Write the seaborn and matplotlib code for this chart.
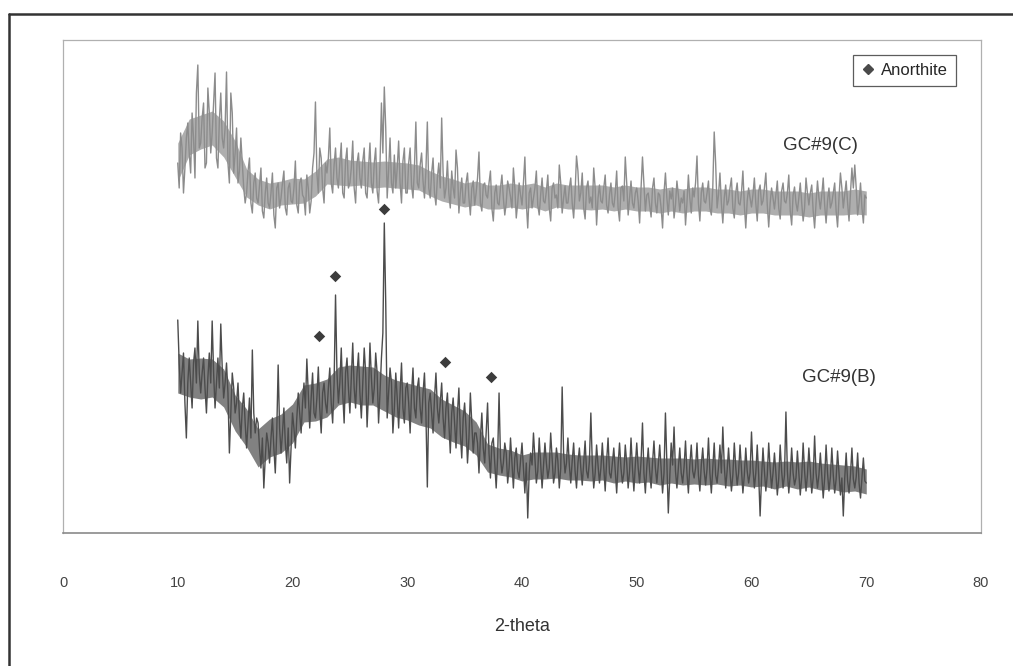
import numpy as np
import pandas as pd
import seaborn as sns
import matplotlib
matplotlib.use("Agg")
import matplotlib.pyplot as plt
from matplotlib.lines import Line2D

# 2-theta grid, 10..70 step 0.125 (readings at x.000/.250/.500/.750 and the half steps)
two_theta = np.arange(10, 70.001, 0.125)

# GC#9(C) - upper pattern (arbitrary offset units), at 10, 10.25, 10.5 ...
gc9_c = [
    370, 400, 340, 395,   # 10
    380, 420, 355, 468,   # 11
    390, 430, 370, 420,   # 12
    400, 460, 365, 440,   # 13
    385, 461, 350, 420,   # 14
    380, 350, 395, 345,   # 15
    340, 375, 320, 360,   # 16
    330, 365, 315, 355,   # 17
    325, 360, 305, 350,   # 18
    335, 362, 318, 350,   # 19
    330, 372, 320, 355,   # 20
    335, 358, 320, 365,   # 21
    431, 340, 375, 330,   # 22
    360, 405, 340, 385,   # 23
    345, 390, 335, 385,   # 24
    350, 392, 330, 380,   # 25
    345, 385, 335, 390,   # 26
    340, 385, 330, 430,   # 27
    446, 335, 395, 340,   # 28
    345, 392, 330, 385,   # 29
    340, 385, 335, 411,   # 30
    345, 380, 335, 411,   # 31
    335, 375, 328, 370,   # 32
    415, 335, 372, 325,   # 33
    345, 383, 320, 355,   # 34
    330, 360, 318, 352,   # 35
    340, 381, 322, 350,   # 36
    335, 362, 312, 348,   # 37
    328, 358, 318, 352,   # 38
    336, 365, 315, 350,   # 39
    328, 376, 305, 345,   # 40
    335, 362, 318, 355,   # 41
    330, 358, 312, 350,   # 42
    338, 368, 320, 347,   # 43
    330, 355, 315, 377,   # 44
    332, 360, 314, 352,   # 45
    336, 365, 308, 348,   # 46
    330, 358, 320, 350,   # 47
    326, 362, 312, 347,   # 48
    376, 318, 352, 325,   # 49
    345, 310, 376, 322,   # 50
    340, 316, 355, 320,   # 51
    338, 305, 360, 318,   # 52
    334, 315, 352, 322,   # 53
    330, 308, 358, 320,   # 54
    336, 377, 312, 350,   # 55
    330, 352, 318, 401,   # 56
    325, 360, 310, 348,   # 57
    332, 355, 315, 350,   # 58
    328, 362, 305, 345,   # 59
    326, 355, 312, 348,   # 60
    332, 360, 306, 345,   # 61
    324, 352, 314, 350,   # 62
    330, 358, 308, 346,   # 63
    322, 350, 312, 355,   # 64
    328, 348, 305, 352,   # 65
    324, 355, 310, 345,   # 66
    330, 350, 306, 360,   # 67
    325, 352, 312, 365,   # 68
    368, 318, 350, 310,   # 69
    335,                  # 70
]
# GC#9(C) at the half steps 10.125, 10.375 ...
gc9_c_half = [
    345, 385, 365, 410,   # 10
    360, 395, 440, 385,   # 11
    415, 365, 445, 380,   # 12
    430, 375, 412, 395,   # 13
    405, 370, 440, 360,   # 14
    405, 362, 370, 330,   # 15
    362, 330, 350, 335,   # 16
    348, 322, 340, 330,   # 17
    340, 318, 345, 325,   # 18
    350, 325, 345, 332,   # 19
    345, 328, 350, 338,   # 20
    318, 345, 332, 380,   # 21
    360, 385, 345, 370,   # 22
    375, 350, 368, 355,   # 23
    370, 340, 372, 345,   # 24
    365, 345, 370, 355,   # 25
    372, 340, 365, 350,   # 26
    370, 342, 368, 380,   # 27
    405, 362, 350, 378,   # 28
    365, 350, 372, 340,   # 29
    370, 348, 365, 350,   # 30
    368, 352, 362, 345,   # 31
    360, 340, 355, 345,   # 32
    360, 345, 340, 362,   # 33
    335, 365, 340, 330,   # 34
    350, 335, 345, 328,   # 35
    355, 330, 348, 338,   # 36
    350, 325, 340, 330,   # 37
    345, 335, 330, 345,   # 38
    325, 345, 330, 338,   # 39
    350, 330, 340, 325,   # 40
    345, 328, 338, 332,   # 41
    342, 325, 345, 335,   # 42
    325, 350, 335, 330,   # 43
    345, 330, 340, 362,   # 44
    340, 325, 345, 330,   # 45
    325, 345, 335, 332,   # 46
    345, 328, 338, 330,   # 47
    340, 325, 345, 332,   # 48
    350, 335, 330, 340,   # 49
    332, 345, 350, 338,   # 50
    328, 345, 330, 340,   # 51
    325, 340, 335, 342,   # 52
    345, 328, 338, 335,   # 53
    342, 330, 335, 345,   # 54
    350, 330, 340, 332,   # 55
    340, 325, 345, 370,   # 56
    338, 330, 335, 328,   # 57
    345, 325, 340, 330,   # 58
    340, 328, 332, 335,   # 59
    338, 330, 342, 328,   # 60
    345, 328, 330, 335,   # 61
    338, 325, 342, 332,   # 62
    340, 322, 338, 330,   # 63
    335, 330, 325, 340,   # 64
    340, 322, 330, 335,   # 65
    338, 328, 332, 325,   # 66
    340, 322, 335, 345,   # 67
    338, 330, 340, 345,   # 68
    345, 330, 325, 338,   # 69
]

# GC#9(B) - lower pattern, at 10, 10.25, 10.5 ...
gc9_b = [
    213, 140, 180, 95,    # 10
    175, 125, 185, 212,   # 11
    140, 175, 120, 180,   # 12
    212, 125, 175, 209,   # 13
    135, 170, 80, 160,    # 14
    120, 150, 95, 140,    # 15
    85, 135, 183, 100,    # 16
    110, 65, 45, 100,     # 17
    70, 115, 60, 168,     # 18
    80, 125, 70, 50,      # 19
    120, 85, 140, 100,    # 20
    150, 174, 105, 160,   # 21
    115, 166, 100, 150,   # 22
    120, 165, 110, 238,   # 23
    130, 185, 110, 175,   # 24
    120, 190, 125, 180,   # 25
    115, 185, 106, 190,   # 26
    130, 180, 110, 175,   # 27
    310, 115, 165, 100,   # 28
    160, 105, 170, 110,   # 29
    150, 100, 165, 115,   # 30
    155, 110, 160, 46,    # 31
    140, 100, 160, 110,   # 32
    150, 95, 140, 80,     # 33
    135, 85, 145, 75,     # 34
    130, 70, 140, 80,     # 35
    100, 60, 120, 70,     # 36
    130, 55, 95, 45,      # 37
    140, 60, 90, 50,      # 38
    95, 45, 85, 55,       # 39
    90, 40, 15, 80,       # 40
    100, 50, 95, 45,      # 41
    90, 55, 100, 50,      # 42
    85, 45, 146, 60,      # 43
    95, 50, 90, 45,       # 44
    85, 48, 92, 55,       # 45
    120, 45, 88, 50,      # 46
    90, 42, 95, 55,       # 47
    85, 40, 90, 50,       # 48
    88, 45, 95, 42,       # 49
    90, 50, 110, 40,      # 50
    85, 45, 92, 50,       # 51
    88, 40, 120, 20,      # 52
    90, 106, 45, 85,      # 53
    50, 92, 40, 88,       # 54
    55, 90, 42, 85,       # 55
    48, 95, 40, 90,       # 56
    50, 88, 106, 45,      # 57
    85, 42, 90, 48,       # 58
    88, 40, 85, 50,       # 59
    101, 45, 88, 17,      # 60
    85, 42, 90, 45,       # 61
    80, 38, 88, 45,       # 62
    121, 40, 85, 48,      # 63
    82, 38, 90, 42,       # 64
    85, 40, 97, 45,       # 65
    80, 35, 88, 42,       # 66
    85, 40, 82, 38,       # 67
    17, 80, 40, 85,       # 68
    45, 80, 35, 75,       # 69
    50,                   # 70
]
# GC#9(B) at the half steps
gc9_b_half = [
    170, 160, 130, 150,   # 10
    150, 170, 150, 160,   # 11
    160, 145, 155, 150,   # 12
    160, 150, 145, 165,   # 13
    150, 140, 120, 145,   # 14
    130, 115, 125, 110,   # 15
    110, 95, 120, 115,    # 16
    85, 95, 75, 90,       # 17
    95, 85, 100, 105,     # 18
    100, 90, 105, 85,     # 19
    105, 115, 120, 130,   # 20
    125, 140, 135, 120,   # 21
    135, 125, 140, 130,   # 22
    145, 130, 150, 160,   # 23
    150, 140, 160, 145,   # 24
    155, 145, 160, 140,   # 25
    150, 160, 140, 155,   # 26
    145, 160, 140, 200,   # 27
    230, 140, 150, 125,   # 28
    135, 140, 125, 145,   # 29
    130, 140, 125, 145,   # 30
    125, 140, 120, 130,   # 31
    120, 135, 125, 130,   # 32
    115, 125, 110, 120,   # 33
    110, 120, 100, 115,   # 34
    105, 95, 110, 100,    # 35
    90, 95, 85, 100,      # 36
    80, 90, 70, 75,       # 37
    75, 70, 80, 65,       # 38
    70, 75, 62, 72,       # 39
    65, 70, 60, 68,       # 40
    75, 62, 70, 68,       # 41
    70, 65, 75, 60,       # 42
    72, 65, 80, 70,       # 43
    68, 72, 62, 70,       # 44
    65, 70, 62, 72,       # 45
    70, 60, 68, 65,       # 46
    66, 72, 60, 70,       # 47
    62, 68, 65, 60,       # 48
    70, 62, 65, 68,       # 49
    65, 72, 60, 66,       # 50
    62, 70, 65, 68,       # 51
    64, 60, 70, 55,       # 52
    68, 62, 65, 60,       # 53
    66, 60, 68, 62,       # 54
    65, 58, 68, 62,       # 55
    64, 60, 66, 58,       # 56
    66, 60, 68, 62,       # 57
    62, 58, 66, 60,       # 58
    64, 58, 62, 60,       # 59
    65, 60, 58, 55,       # 60
    62, 58, 64, 60,       # 61
    60, 55, 62, 58,       # 62
    62, 58, 60, 55,       # 63
    60, 56, 62, 58,       # 64
    62, 55, 60, 58,       # 65
    58, 55, 60, 56,       # 66
    58, 54, 60, 55,       # 67
    55, 52, 58, 54,       # 68
    56, 50, 55, 52,       # 69
]

# dense noise core of each pattern, read per degree (10..70)
band_x = np.arange(10, 71, 1)
gc9_c_low = [352, 378, 384, 388, 376, 356, 336, 328, 324, 328, 329, 330, 337, 349, 348,
             347, 348, 345, 346, 345, 344, 343, 337, 332, 329, 326, 328, 324, 324, 326,
             324, 326, 322, 326, 324, 324, 323, 324, 322, 324, 322, 322, 320, 322, 320,
             322, 322, 320, 320, 318, 320, 320, 318, 318, 318, 316, 318, 318, 318, 319, 318]
gc9_c_high = [390, 414, 418, 422, 412, 392, 364, 354, 350, 352, 355, 354, 362, 374, 376,
              373, 372, 371, 372, 371, 370, 368, 362, 357, 354, 350, 352, 348, 348, 350,
              348, 350, 346, 350, 348, 348, 348, 348, 346, 348, 346, 346, 344, 346, 344,
              346, 346, 344, 344, 342, 344, 344, 342, 342, 342, 340, 342, 342, 342, 344, 342]
gc9_b_low = [140, 136, 134, 136, 126, 102, 86, 66, 76, 80, 90, 111, 112, 116, 128,
             131, 128, 128, 122, 116, 113, 108, 105, 96, 91, 87, 78, 61, 58, 56,
             52, 54, 54, 55, 53, 53, 52, 53, 50, 52, 50, 51, 48, 50, 48,
             49, 48, 49, 47, 48, 46, 47, 44, 47, 44, 46, 43, 44, 41, 42, 39]
gc9_b_high = [180, 174, 175, 174, 164, 138, 124, 104, 114, 119, 129, 148, 150, 154, 166,
              168, 167, 166, 158, 153, 150, 147, 144, 134, 128, 122, 111, 89, 85, 83,
              78, 81, 81, 81, 79, 78, 78, 78, 77, 76, 77, 76, 75, 75, 75,
              74, 75, 74, 74, 73, 73, 72, 71, 72, 71, 72, 70, 69, 68, 67, 64]

# Anorthite peak markers
anorthite_x = [22.3, 23.7, 28.0, 33.3, 37.3]
anorthite_y = [197, 257, 324, 171, 156]

x_ticks = [0, 10, 20, 30, 40, 50, 60, 70, 80]

# merge the quarter-step and half-step readings into one trace each
c_full = np.empty(len(two_theta))
c_full[0::2] = gc9_c
c_full[1::2] = gc9_c_half
b_full = np.empty(len(two_theta))
b_full[0::2] = gc9_b
b_full[1::2] = gc9_b_half
df = pd.DataFrame({"two_theta": two_theta, "C": c_full, "B": b_full})

sns.set_style("white")
plt.rcParams['font.family'] = ['Liberation Sans', 'DejaVu Sans']

fig = plt.figure(figsize=(10.13, 6.66), dpi=100)
ax = fig.add_axes([63 / 1013, 133 / 666, 918 / 1013, 493 / 666])

c_col = "#8c8c8c"
b_col = "#4c4c4c"

ax.fill_between(band_x, gc9_c_low, gc9_c_high, color=c_col, alpha=0.7, linewidth=0)
ax.fill_between(band_x, gc9_b_low, gc9_b_high, color=b_col, alpha=0.7, linewidth=0)
sns.lineplot(data=df, x="two_theta", y="C", color=c_col, linewidth=1.0, ax=ax)
sns.lineplot(data=df, x="two_theta", y="B", color=b_col, linewidth=1.0, ax=ax)
sns.scatterplot(x=anorthite_x, y=anorthite_y, marker="D", s=34, color="#3c3c3c",
                edgecolor="#3c3c3c", linewidth=0, ax=ax, zorder=5)

ax.set_xlim(0, 80)
ax.set_ylim(0, 493)
ax.set_xticks(x_ticks)
ax.set_xticklabels([str(t) for t in x_ticks])
ax.set_yticks([])
ax.tick_params(axis="x", direction="out", length=7, width=0.9, color="#888888",
               pad=24, labelsize=10.5, labelcolor="#444444")

for side in ["top", "left", "right"]:
    ax.spines[side].set_color("#b0b0b0")
    ax.spines[side].set_linewidth(0.9)
ax.spines["bottom"].set_color("#8a8a8a")
ax.spines["bottom"].set_linewidth(1.2)

ax.set_xlabel("2-theta", fontsize=13, color="#333333")
ax.xaxis.set_label_coords(0.5, -0.19)
ax.xaxis.label.set_verticalalignment("center")
ax.set_ylabel("")

ax.text(66.0, 388, "GC#9(C)", fontsize=13.5, color="#333333", ha="center", va="center")
ax.text(67.6, 156, "GC#9(B)", fontsize=13.5, color="#333333", ha="center", va="center")

handle = Line2D([], [], marker="D", linestyle="none", color="#4a4a4a", markersize=5)
leg = ax.legend([handle], ["Anorthite"], loc="upper right", bbox_to_anchor=(0.973, 0.970),
                fontsize=12, frameon=True, fancybox=False, borderaxespad=0,
                handlelength=0.8, handletextpad=0.4, borderpad=0.5)
leg.get_frame().set_edgecolor("#333333")
leg.get_frame().set_linewidth(0.9)

# outer chart border (left and top only visible)
fig.add_artist(Line2D([9 / 1013, 9 / 1013], [0, 1 - 14 / 666], color="#333333", linewidth=1.8))
fig.add_artist(Line2D([9 / 1013, 1], [1 - 14 / 666, 1 - 14 / 666], color="#333333", linewidth=1.8))

fig.savefig("out.png", dpi=100)
